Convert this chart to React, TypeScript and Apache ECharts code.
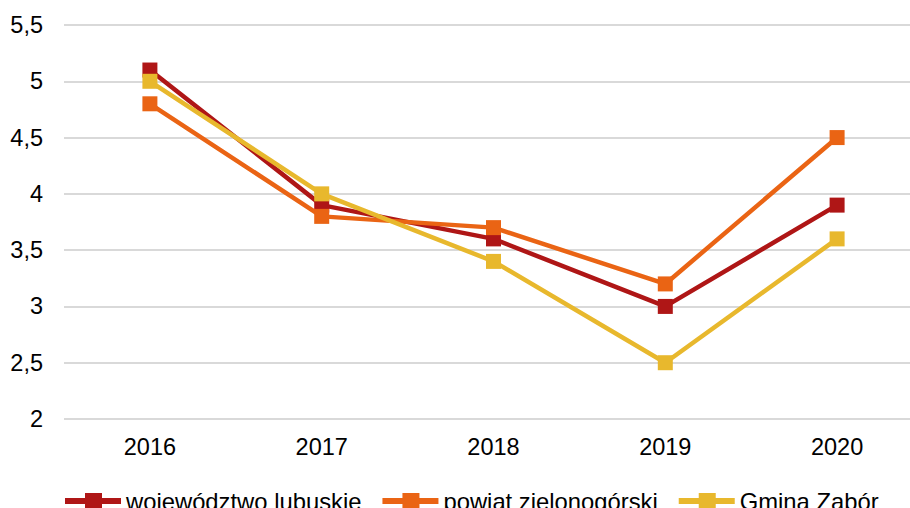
import React, { useEffect, useRef } from "react";
import * as echarts from "echarts";

const categories = ["2016", "2017", "2018", "2019", "2020"];
const seriesNames = ["województwo lubuskie", "powiat zielonogórski", "Gmina Zabór"];
const wojewodztwo = [5.1, 3.9, 3.6, 3.0, 3.9];
const powiat = [4.8, 3.8, 3.7, 3.2, 4.5];
const gmina = [5.0, 4.0, 3.4, 2.5, 3.6];
const colors = ["#AF1616", "#EA6414", "#E8B82D"];

export default function App() {
  const ref = useRef<HTMLDivElement>(null);
  useEffect(() => {
    if (!ref.current) return;
    const chart = echarts.init(ref.current, undefined, { renderer: "svg" });
    const font = "'Liberation Sans', Arial, sans-serif";
    const values = [wojewodztwo, powiat, gmina];
    const icon = "path://M0,5 H20 V0 H37 V5 H56 V11 H37 V16 H20 V11 H0 Z";
    chart.setOption({
      animation: false,
      textStyle: { fontFamily: font },
      grid: { left: 64, top: 25, right: 0, bottom: 89, containLabel: false },
      legend: {
        left: 65,
        top: 489,
        padding: 0,
        itemGap: 21,
        itemWidth: 56,
        itemHeight: 16,
        textStyle: { fontSize: 23.8, color: "#000", fontFamily: font },
        data: seriesNames.map((n) => ({ name: n, icon })),
      },
      xAxis: {
        type: "category",
        data: categories,
        boundaryGap: true,
        axisLine: { show: false },
        axisTick: { show: false },
        axisLabel: { fontSize: 23.5, color: "#000", margin: 16, fontFamily: font },
      },
      yAxis: {
        type: "value",
        min: 2,
        max: 5.5,
        interval: 0.5,
        axisLine: { show: false },
        axisTick: { show: false },
        splitLine: { lineStyle: { color: "#D9D9D9", width: 2 } },
        axisLabel: {
          fontSize: 23.5,
          color: "#000",
          margin: 21,
          fontFamily: font,
          formatter: (v: number) => String(v).replace(".", ","),
        },
      },
      series: values.map((d, i) => ({
        name: seriesNames[i],
        type: "line",
        data: d,
        symbol: "rect",
        symbolSize: 15,
        showSymbol: true,
        color: colors[i],
        lineStyle: { width: 4.5, color: colors[i] },
        itemStyle: { color: colors[i] },
        z: 2 + i,
      })),
    });
    return () => chart.dispose();
  }, []);
  return (
    <div style={{ width: 910, height: 508, position: "absolute", left: 0, top: 0, overflow: "hidden" }}>
      <div ref={ref} style={{ width: 923, height: 508 }} />
    </div>
  );
}
